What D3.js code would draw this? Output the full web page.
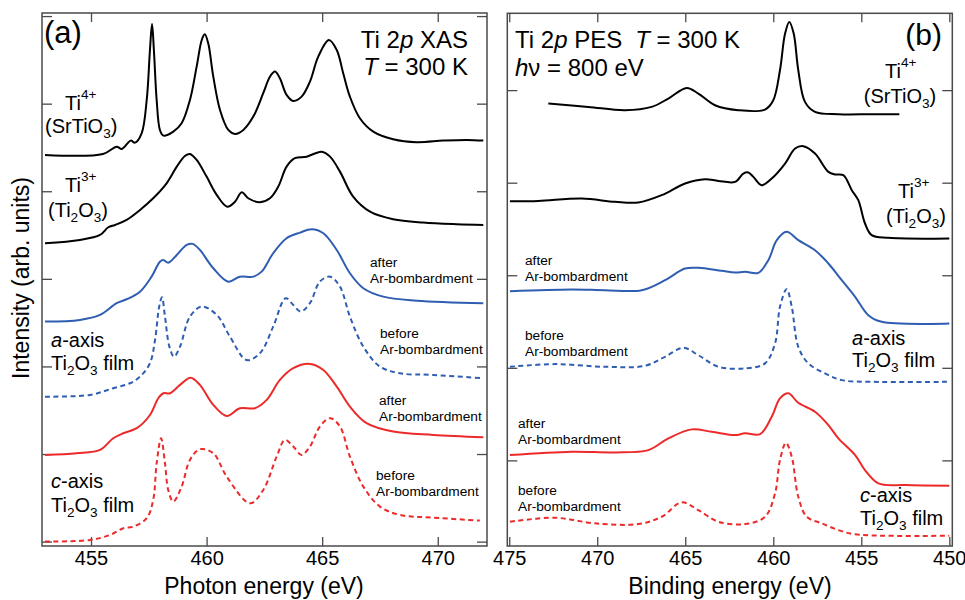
<!DOCTYPE html>
<html lang="en"><head>
<meta charset="utf-8">
<title>Ti 2p XAS / PES</title>
<script src="https://cdn.jsdelivr.net/npm/d3@7"></script>
<style>
  body { margin: 0; background: #fff; }
  text { font-family: "Liberation Sans", Arial, Helvetica, sans-serif; fill: #000; }
</style>
</head>
<body>
<svg width="965" height="600"></svg>
<script>
// ---- data: panel (a) XAS, [photon energy (eV), intensity (arb. units, offset)]
var xasSrTiO3 = [[453.01,4.415],[455.52,4.426],[456.11,4.509],[456.33,4.483],[456.72,4.578],[456.90,4.555],[457.19,4.662],[457.41,5.042],[457.55,5.613],[457.64,5.910],[457.72,5.613],[457.84,5.042],[457.98,4.700],[458.13,4.635],[458.56,4.681],[458.92,4.776],[459.28,5.042],[459.57,5.423],[459.79,5.727],[459.92,5.792],[460.07,5.690],[460.29,5.308],[460.58,4.928],[460.94,4.700],[461.23,4.654],[461.59,4.700],[462.02,4.852],[462.45,5.119],[462.74,5.308],[462.96,5.366],[463.17,5.290],[463.46,5.100],[463.75,5.031],[464.11,5.080],[464.47,5.251],[464.83,5.537],[465.29,5.727],[465.63,5.613],[465.91,5.347],[466.20,5.080],[466.63,4.834],[467.21,4.681],[468.07,4.594],[469.09,4.560],[470.24,4.578],[471.25,4.586],[471.97,4.578]];
var xasTi2O3 = [[453.01,3.407],[454.52,3.444],[455.39,3.501],[455.75,3.589],[456.04,3.615],[456.54,3.673],[457.12,3.787],[457.69,3.920],[458.27,4.091],[458.71,4.281],[459.06,4.403],[459.28,4.426],[459.57,4.357],[460.00,4.167],[460.44,3.958],[460.89,3.824],[461.23,3.881],[461.52,3.989],[461.80,3.920],[462.31,3.875],[462.74,3.920],[463.10,4.053],[463.46,4.281],[463.82,4.377],[464.33,4.395],[464.98,4.452],[465.34,4.395],[465.77,4.224],[466.34,3.939],[467.07,3.767],[468.07,3.681],[469.37,3.642],[470.82,3.623],[471.97,3.615]];
var xasAAfter = [[453.01,2.512],[454.52,2.531],[455.39,2.588],[456.11,2.722],[456.54,2.767],[457.12,2.854],[457.62,3.025],[457.98,3.196],[458.13,3.216],[458.34,3.185],[458.71,3.273],[459.14,3.387],[459.40,3.399],[459.71,3.330],[460.29,3.121],[460.94,2.968],[461.44,3.025],[462.02,3.025],[462.38,3.082],[462.88,3.292],[463.46,3.464],[464.04,3.528],[464.55,3.566],[465.05,3.521],[465.63,3.330],[466.20,3.064],[466.78,2.893],[467.64,2.797],[469.09,2.751],[471.97,2.722]];
var xasABefore = [[453.01,1.655],[454.96,1.675],[455.96,1.751],[456.69,1.808],[457.12,1.884],[457.55,2.037],[457.77,2.303],[457.95,2.683],[458.07,2.790],[458.20,2.569],[458.39,2.226],[458.59,2.112],[458.85,2.226],[459.28,2.569],[459.79,2.683],[460.44,2.588],[461.01,2.340],[461.73,2.074],[462.31,2.151],[462.88,2.454],[463.42,2.779],[463.75,2.702],[464.07,2.626],[464.47,2.722],[464.90,2.968],[465.34,3.025],[465.77,2.911],[466.20,2.569],[466.78,2.226],[467.50,1.998],[468.36,1.922],[469.80,1.903],[471.97,1.865]];
var xasCAfter = [[453.01,0.990],[454.38,1.009],[455.39,1.047],[455.96,1.180],[456.40,1.237],[456.98,1.295],[457.55,1.446],[457.91,1.637],[458.13,1.694],[458.42,1.694],[458.85,1.789],[459.31,1.872],[459.71,1.789],[460.29,1.561],[460.87,1.435],[461.44,1.523],[462.09,1.523],[462.60,1.618],[463.17,1.846],[463.75,1.980],[464.47,2.029],[465.05,1.960],[465.63,1.769],[466.20,1.541],[466.92,1.352],[468.07,1.256],[469.80,1.218],[471.97,1.192]];
var xasCBefore = [[453.01,0.000],[454.96,0.019],[455.82,0.076],[456.40,0.153],[456.83,0.171],[457.41,0.267],[457.69,0.476],[457.84,0.895],[458.03,1.180],[458.20,0.895],[458.34,0.590],[458.56,0.457],[458.92,0.628],[459.28,0.933],[459.71,1.055],[460.29,1.009],[460.87,0.742],[461.88,0.438],[462.45,0.590],[463.03,0.970],[463.39,1.161],[463.75,1.085],[464.11,0.990],[464.47,1.085],[464.90,1.313],[465.34,1.409],[465.77,1.313],[466.20,0.970],[466.78,0.628],[467.50,0.400],[468.36,0.305],[469.80,0.274],[471.82,0.240]];

// ---- data: panel (b) PES, [binding energy (eV), intensity (arb. units, offset)]
var pesSrTiO3 = [[472.78,4.855],[470.51,4.819],[468.42,4.783],[466.91,4.819],[465.96,4.909],[464.92,5.024],[464.26,4.963],[463.31,4.837],[461.99,4.783],[460.47,4.790],[460.00,4.891],[459.62,5.215],[459.33,5.611],[459.09,5.736],[458.84,5.611],[458.58,5.215],[458.20,4.873],[457.63,4.765],[456.30,4.740],[454.41,4.740],[452.84,4.740]];
var pesTi2O3 = [[474.96,3.800],[473.35,3.803],[470.88,3.829],[468.99,3.793],[467.67,3.786],[466.34,3.865],[465.01,3.991],[463.88,4.038],[463.12,4.019],[462.17,4.009],[461.70,4.099],[461.42,4.110],[461.13,4.063],[460.66,3.973],[460.09,4.045],[459.33,4.207],[458.76,4.369],[458.29,4.394],[457.63,4.315],[456.87,4.117],[456.49,4.089],[456.02,4.081],[455.54,3.919],[455.17,3.811],[454.79,3.559],[454.41,3.433],[453.46,3.404],[450.00,3.397]];
var pesAAfter = [[474.96,2.828],[471.45,2.847],[469.56,2.839],[467.47,2.839],[466.15,2.947],[465.01,3.073],[464.26,3.080],[462.93,3.048],[462.17,3.030],[461.60,3.037],[460.85,3.026],[460.28,3.163],[459.80,3.379],[459.24,3.469],[458.58,3.379],[457.63,3.271],[456.87,3.127],[456.11,2.947],[455.35,2.767],[454.60,2.569],[453.84,2.497],[450.00,2.479]];
var pesABefore = [[474.96,2.011],[472.40,2.040],[469.56,2.011],[467.29,2.022],[466.15,2.119],[465.11,2.216],[464.26,2.137],[463.12,2.011],[461.60,1.994],[460.47,2.048],[459.90,2.263],[459.62,2.659],[459.24,2.850],[458.95,2.659],[458.58,2.227],[458.01,2.048],[457.06,1.940],[456.11,1.867],[454.41,1.849],[450.00,1.849]];
var pesCAfter = [[474.96,1.057],[471.45,1.093],[468.99,1.086],[467.10,1.111],[465.96,1.238],[464.63,1.335],[463.50,1.309],[462.17,1.273],[461.60,1.292],[460.75,1.284],[460.09,1.471],[459.62,1.670],[459.14,1.724],[458.58,1.622],[457.63,1.525],[456.87,1.381],[456.30,1.238],[455.35,1.057],[454.79,0.895],[454.03,0.752],[452.51,0.733],[450.00,0.726]];
var pesCBefore = [[474.96,0.337],[472.40,0.380],[470.13,0.320],[467.67,0.312],[466.34,0.391],[465.20,0.546],[464.26,0.463],[463.12,0.337],[461.60,0.312],[460.47,0.391],[459.90,0.644],[459.62,1.003],[459.28,1.190],[458.95,1.039],[458.58,0.607],[458.10,0.391],[457.25,0.320],[456.30,0.247],[455.35,0.201],[450.00,0.186]];

var xasTicks = [455, 460, 465, 470];
var pesTicks = [475, 470, 465, 460, 455, 450];
var xasYTicks = [0, 1, 2, 3, 4, 5, 6];
var pesYTicks = [1, 2, 3, 4, 5];

var blue = "#2f5db1", red = "#ec2a2a", frameCol = "#4a4a4a";

var svg = d3.select("svg");

// scales
var xA = d3.scaleLinear().domain([452.88, 472.13]).range([42, 487]);
var yA = d3.scaleLinear().domain([-0.05, 6.035]).range([546, 13]);
var xB = d3.scaleLinear().domain([475.11, 449.83]).range([507.3, 952.3]);
var yB = d3.scaleLinear().domain([0.075, 5.83]).range([546, 13.3]);

function frame(x, y, yt, xt) {
  var g = svg.append("g");
  var x0 = x.range()[0], x1 = x.range()[1], y0 = y.range()[1], y1 = y.range()[0];
  var ax = [
    [d3.axisBottom(x).tickValues(xt).tickSize(-9).tickPadding(5), "translate(0," + y1 + ")", true],
    [d3.axisTop(x).tickValues(xt).tickSize(-9), "translate(0," + y0 + ")", false],
    [d3.axisLeft(y).tickValues(yt).tickSize(-10), "translate(" + x0 + ",0)", false],
    [d3.axisRight(y).tickValues(yt).tickSize(-10), "translate(" + x1 + ",0)", false]
  ];
  ax.forEach(function(a) {
    var ag = g.append("g").attr("transform", a[1]).call(a[0]);
    ag.select(".domain").remove();
    ag.selectAll("line").attr("stroke", frameCol).attr("stroke-width", 1.3);
    if (a[2]) ag.selectAll("text").attr("font-size", 20).attr("font-family", "Liberation Sans, Arial, sans-serif").attr("fill", "#000");
    else ag.selectAll("text").remove();
  });
  g.append("rect").attr("x", x0).attr("y", y0).attr("width", x1 - x0).attr("height", y1 - y0)
    .attr("fill", "none").attr("stroke", frameCol).attr("stroke-width", 1.5);
}

frame(xA, yA, xasYTicks, xasTicks);
frame(xB, yB, pesYTicks, pesTicks);

function curve(data, x, y, color, dashed) {
  var line = d3.line().x(function(d) { return x(d[0]); }).y(function(d) { return y(d[1]); })
    .curve(d3.curveCatmullRom.alpha(0.5));
  svg.append("path").datum(data).attr("d", line)
    .attr("fill", "none").attr("stroke", color).attr("stroke-width", 2)
    .attr("stroke-linejoin", "round")
    .attr("stroke-dasharray", dashed ? "5,3.5" : null);
}

curve(xasSrTiO3, xA, yA, "#000", false);
curve(xasTi2O3, xA, yA, "#000", false);
curve(xasAAfter, xA, yA, blue, false);
curve(xasABefore, xA, yA, blue, true);
curve(xasCAfter, xA, yA, red, false);
curve(xasCBefore, xA, yA, red, true);

curve(pesSrTiO3, xB, yB, "#000", false);
curve(pesTi2O3, xB, yB, "#000", false);
curve(pesAAfter, xB, yB, blue, false);
curve(pesABefore, xB, yB, blue, true);
curve(pesCAfter, xB, yB, red, false);
curve(pesCBefore, xB, yB, red, true);

// rich text: parts = [[text, kind, dx]] kind: "" | "i" | "sup" | "sub"
function rich(x, y, size, parts, anchor) {
  var t = svg.append("text").attr("x", x).attr("y", y).attr("font-size", size)
    .attr("text-anchor", anchor || "start");
  var shift = 0;
  parts.forEach(function(p) {
    var k = p[1] || "";
    var target = k === "sup" ? -0.55 * size : (k === "sub" ? 0.25 * size : 0);
    var ts = t.append("tspan").text(p[0]).attr("dy", target - shift);
    shift = target;
    if (k === "sup" || k === "sub") ts.attr("font-size", size * 0.68);
    if (k === "i") ts.attr("font-style", "italic");
    if (p[2]) ts.attr("dx", p[2]);
  });
  return t;
}

// panel (a) text
rich(44, 43, 31, [["(a)"]]);
rich(468, 48, 24, [["Ti 2"], ["p", "i"], [" XAS"]], "end");
rich(468, 75, 24, [["T", "i"], [" = 300 K"]], "end");
rich(65, 110, 20, [["Ti"], ["4+", "sup"]]);
rich(45, 133, 20, [["(SrTiO"], ["3", "sub"], [")"]]);
rich(65, 192, 20, [["Ti"], ["3+", "sup"]]);
rich(48, 217, 20, [["(Ti"], ["2", "sub"], ["O"], ["3", "sub"], [")"]]);
rich(370, 267, 13.7, [["after"]]);
rich(370, 283, 13.7, [["Ar-bombardment"]]);
rich(380, 338, 13.7, [["before"]]);
rich(380, 354, 13.7, [["Ar-bombardment"]]);
rich(379, 405, 13.7, [["after"]]);
rich(379, 421, 13.7, [["Ar-bombardment"]]);
rich(376, 480, 13.7, [["before"]]);
rich(376, 496, 13.7, [["Ar-bombardment"]]);
rich(51, 347, 20, [["a", "i"], ["-axis"]]);
rich(51, 370, 20, [["Ti"], ["2", "sub"], ["O"], ["3", "sub"], [" film"]]);
rich(51, 488, 20, [["c", "i"], ["-axis"]]);
rich(51, 512, 20, [["Ti"], ["2", "sub"], ["O"], ["3", "sub"], [" film"]]);

// panel (b) text
rich(515, 48, 24, [["Ti 2"], ["p", "i"], [" PES"], ["T", "i", 13], [" = 300 K"]]);
rich(515, 76, 24, [["h", "i"], ["\u03bd = 800 eV"]]);
rich(942, 45, 30, [["(b)"]], "end");
rich(885, 78, 20, [["Ti"], ["4+", "sup"]]);
rich(900, 103, 20, [["(SrTiO"], ["3", "sub"], [")"]], "middle");
rich(898, 198, 20, [["Ti"], ["3+", "sup"]]);
rich(916, 223, 20, [["(Ti"], ["2", "sub"], ["O"], ["3", "sub"], [")"]], "middle");
rich(525, 265, 13.7, [["after"]]);
rich(525, 281, 13.7, [["Ar-bombardment"]]);
rich(525, 340, 13.7, [["before"]]);
rich(525, 356, 13.7, [["Ar-bombardment"]]);
rich(518, 428, 13.7, [["after"]]);
rich(518, 444, 13.7, [["Ar-bombardment"]]);
rich(518, 495, 13.7, [["before"]]);
rich(518, 511, 13.7, [["Ar-bombardment"]]);
rich(852, 345, 20, [["a", "i"], ["-axis"]]);
rich(852, 367, 20, [["Ti"], ["2", "sub"], ["O"], ["3", "sub"], [" film"]]);
rich(860, 502, 20, [["c", "i"], ["-axis"]]);
rich(860, 525, 20, [["Ti"], ["2", "sub"], ["O"], ["3", "sub"], [" film"]]);

// axis titles
rich(264, 594, 23, [["Photon energy (eV)"]], "middle");
rich(730, 594, 23, [["Binding energy (eV)"]], "middle");
svg.append("text").attr("transform", "translate(29,278) rotate(-90)")
  .attr("text-anchor", "middle").attr("font-size", 23).text("Intensity (arb. units)");
</script>
</body>
</html>
